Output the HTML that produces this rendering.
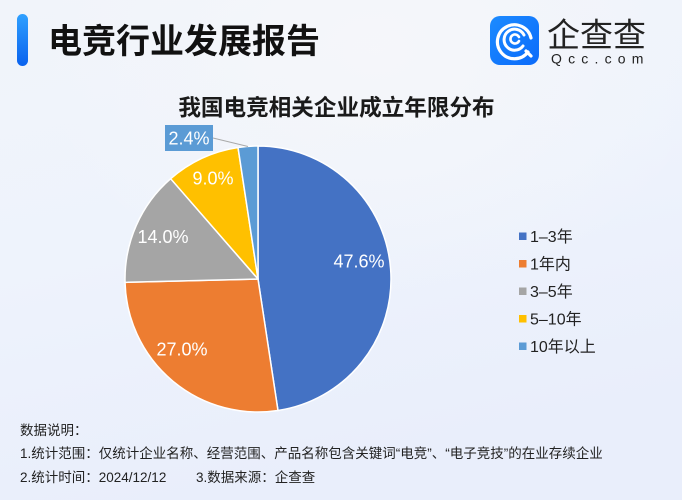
<!DOCTYPE html>
<html>
<head>
<meta charset="utf-8">
<style>
  html,body{margin:0;padding:0;}
  body{width:682px;height:500px;overflow:hidden;}
  svg{display:block;}
  .cjk{font-family:"Liberation Sans","Noto Sans CJK SC",sans-serif;}
</style>
</head>
<body>
<svg width="682" height="500" viewBox="0 0 682 500" xmlns="http://www.w3.org/2000/svg">
  <defs>
    <linearGradient id="bg" x1="0" y1="0" x2="0.3" y2="1">
      <stop offset="0" stop-color="#F1F4FA"/>
      <stop offset="0.5" stop-color="#EEF3FC"/>
      <stop offset="1" stop-color="#E9EEFB"/>
    </linearGradient>
    <radialGradient id="glow" cx="0.55" cy="0.1" r="0.5">
      <stop offset="0" stop-color="#F6F7FA" stop-opacity="0.9"/>
      <stop offset="1" stop-color="#F6F7FA" stop-opacity="0"/>
    </radialGradient>
    <linearGradient id="bar" x1="0" y1="0" x2="0" y2="1">
      <stop offset="0" stop-color="#2FA0FF"/>
      <stop offset="1" stop-color="#0A62EE"/>
    </linearGradient>
    <linearGradient id="logo" x1="0" y1="0" x2="1" y2="1">
      <stop offset="0" stop-color="#1C8BFF"/>
      <stop offset="1" stop-color="#0B6BFA"/>
    </linearGradient>
  </defs>

  <rect x="0" y="0" width="682" height="500" fill="url(#bg)"/>
  <rect x="0" y="0" width="682" height="500" fill="url(#glow)"/>

  <!-- Header -->
  <rect x="17" y="14" width="11" height="52" rx="5.5" fill="url(#bar)"/>
  <text x="48" y="53" class="cjk" font-size="34" font-weight="bold" fill="#111">电竞行业发展报告</text>

  <!-- Logo -->
  <rect x="490" y="16" width="49" height="49" rx="10" fill="url(#logo)"/>
  <g fill="none" stroke="#fff" stroke-linecap="round">
    <path d="M528,52 A17,17 0 1 1 531,38" stroke-width="3.2"/>
    <path d="M523,46 A10.5,10.5 0 1 1 524,35" stroke-width="3"/>
    <path d="M519,41 A4.5,4.5 0 1 1 519,37" stroke-width="2.6"/>
    <path d="M526,51 L531,56" stroke-width="3.2"/>
  </g>
  <text x="547" y="46.5" class="cjk" font-size="33" fill="#222">企查查</text>
  <text x="551" y="63.5" font-family="Liberation Sans, sans-serif" font-size="14" letter-spacing="6.2" fill="#222">Qcc.com</text>

  <!-- Chart title -->
  <text x="336.5" y="115.6" class="cjk" font-size="22.6" font-weight="bold" fill="#1a1a1a" text-anchor="middle">我国电竞相关企业成立年限分布</text>

  <!-- Pie -->
  <g stroke="#fff" stroke-width="1.5" stroke-linejoin="round">
    <path d="M258,279 L258,146 A133,133 0 0 1 277.98,410.49 Z" fill="#4472C4"/>
    <path d="M258,279 L277.98,410.49 A133,133 0 0 1 125.04,282.34 Z" fill="#ED7D31"/>
    <path d="M258,279 L125.04,282.34 A133,133 0 0 1 170.67,178.69 Z" fill="#A5A5A5"/>
    <path d="M258,279 L170.67,178.69 A133,133 0 0 1 238.02,147.51 Z" fill="#FFC000"/>
    <path d="M258,279 L238.02,147.51 A133,133 0 0 1 258,146 Z" fill="#5B9BD5"/>
  </g>

  <!-- Data labels -->
  <g font-family="Liberation Sans, sans-serif" font-size="18" fill="#fff" text-anchor="middle">
    <text x="359" y="267.5">47.6%</text>
    <text x="182" y="355.5">27.0%</text>
    <text x="163" y="243">14.0%</text>
    <text x="213" y="184.5">9.0%</text>
  </g>
  <line x1="213" y1="138" x2="248" y2="146.5" stroke="#A9A9A9" stroke-width="1"/>
  <rect x="165" y="125" width="48" height="26" fill="#5B9BD5"/>
  <text x="189" y="144.5" font-family="Liberation Sans, sans-serif" font-size="18" fill="#fff" text-anchor="middle">2.4%</text>

  <!-- Legend -->
  <g class="cjk" font-size="16" fill="#222">
    <rect x="519" y="232.5" width="7.5" height="7.5" fill="#4472C4"/>
    <text x="530" y="242">1–3年</text>
    <rect x="519" y="260" width="7.5" height="7.5" fill="#ED7D31"/>
    <text x="530" y="269.5">1年内</text>
    <rect x="519" y="287.5" width="7.5" height="7.5" fill="#A5A5A5"/>
    <text x="530" y="297">3–5年</text>
    <rect x="519" y="315" width="7.5" height="7.5" fill="#FFC000"/>
    <text x="530" y="324.5">5–10年</text>
    <rect x="519" y="342.5" width="7.5" height="7.5" fill="#5B9BD5"/>
    <text x="530" y="352">10年以上</text>
  </g>

  <!-- Footnotes -->
  <g class="cjk" font-size="13.5" fill="#222">
    <text x="20" y="435">数据说明：</text>
    <text x="20" y="458">1.统计范围：仅统计企业名称、经营范围、产品名称包含关键词“电竞”、“电子竞技”的在业存续企业</text>
    <text x="20" y="482">2.统计时间：2024/12/12</text>
    <text x="196" y="482">3.数据来源：企查查</text>
  </g>
</svg>
</body>
</html>
